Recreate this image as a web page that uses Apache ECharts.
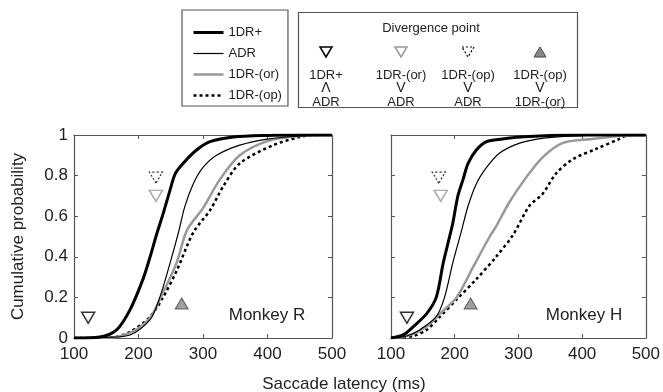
<!DOCTYPE html>
<html>
<head>
<meta charset="utf-8">
<script src="https://cdn.jsdelivr.net/npm/echarts@6/dist/echarts.min.js"></script>
<style>
  html, body { margin: 0; padding: 0; background: #fff; }
  #main { width: 663px; height: 392px; }
</style>
</head>
<body>
<div id="main"></div>
<script>
// x ticks (ms) and y ticks
var xTicks = [100, 200, 300, 400, 500];
var yTicks = [0, 0.2, 0.4, 0.6, 0.8, 1];

// Monkey R curves [latency, cumulative prob]
var r1DRplus = [[100,0],[140,0.005],[166,0.04],[187,0.14],[207,0.29],[218,0.40],[228,0.51],[238,0.61],[249,0.73],[257,0.81],[269,0.86],[290,0.926],[311,0.967],[347,0.99],[400,0.998],[450,1],[500,1]];
var rADR = [[100,0],[150,0.003],[187,0.015],[218,0.09],[233,0.20],[249,0.37],[262,0.52],[272,0.65],[285,0.76],[300,0.84],[321,0.90],[357,0.95],[400,0.98],[450,0.995],[500,1]];
var r1DRor = [[100,0],[160,0.003],[190,0.03],[218,0.10],[233,0.19],[259,0.37],[275,0.53],[300,0.64],[326,0.78],[357,0.90],[400,0.97],[450,0.995],[500,1]];
var r1DRop = [[100,0],[160,0.003],[187,0.03],[218,0.105],[238,0.20],[259,0.33],[285,0.52],[311,0.63],[331,0.745],[357,0.86],[409,0.95],[450,0.99],[470,1],[500,1]];

// Monkey H curves
var h1DRplus = [[100,0],[119,0.015],[135,0.056],[156,0.12],[171,0.20],[182,0.37],[192,0.50],[197,0.565],[205,0.70],[213,0.78],[221,0.86],[234,0.926],[250,0.967],[275,0.98],[302,0.99],[350,0.998],[400,1],[500,1]];
var hADR = [[100,0],[125,0.01],[145,0.04],[171,0.105],[184,0.20],[197,0.37],[210,0.52],[221,0.65],[234,0.76],[250,0.84],[270,0.91],[302,0.96],[340,0.985],[400,0.997],[500,1]];
var h1DRor = [[100,0],[130,0.015],[156,0.056],[177,0.12],[203,0.20],[229,0.35],[255,0.50],[265,0.55],[286,0.67],[312,0.79],[338,0.89],[369,0.96],[416,0.98],[458,0.995],[500,1]];
var h1DRop = [[100,0],[135,0.01],[156,0.04],[177,0.105],[203,0.19],[234,0.29],[265,0.40],[292,0.51],[317,0.65],[338,0.71],[359,0.81],[385,0.88],[421,0.93],[458,0.98],[473,1],[500,1]];

// divergence markers: [latency, prob]
var rDiv1 = [[122,0.1]];
var rDivOr = [[227,0.7]];
var rDivOp = [[227,0.79]];
var rDivOpOr = [[267,0.17]];
var hDiv1 = [[125,0.1]];
var hDivOr = [[178,0.7]];
var hDivOp = [[175,0.79]];
var hDivOpOr = [[225,0.17]];

var names = ['1DR+', 'ADR', '1DR-(or)', '1DR-(op)'];
var divLabelsTop = ['1DR+', '1DR-(or)', '1DR-(op)', '1DR-(op)'];
var divSigns = ['\u039B', 'V', 'V', 'V'];
var divLabelsBot = ['ADR', 'ADR', 'ADR', '1DR-(or)'];

var FONT = 'Liberation Sans, Arial, sans-serif';
var myChart = echarts.init(document.getElementById('main'));

var lineStyles = [
    {color: '#000', width: 3, type: 'solid'},
    {color: '#000', width: 1.2, type: 'solid'},
    {color: '#999', width: 2.5, type: 'solid'},
    {color: '#000', width: 2.5, type: [3, 3]}
];

function xAx(gi, pos, labels) {
    return {
        type: 'value', gridIndex: gi, position: pos, min: 100, max: 500, interval: 100,
        axisLine: {show: true, onZero: false, lineStyle: {color: '#555', width: 1.2}},
        axisTick: {show: true, inside: true, length: 4, lineStyle: {color: '#555'}},
        axisLabel: {show: labels, fontSize: 17, color: '#222', margin: 8, fontFamily: FONT},
        splitLine: {show: false}
    };
}
function yAx(gi, pos, labels) {
    return {
        type: 'value', gridIndex: gi, position: pos, min: 0, max: 1, interval: 0.2,
        axisLine: {show: true, onZero: false, lineStyle: {color: '#555', width: 1.2}},
        axisTick: {show: true, inside: true, length: 4, lineStyle: {color: '#555'}},
        axisLabel: {show: labels, fontSize: 17, color: '#222', margin: 6, fontFamily: FONT,
            formatter: function (v) { return String(+v.toFixed(1)); }},
        splitLine: {show: false}
    };
}

function curves(data, xi) {
    return data.map(function (d, i) {
        return {
            name: names[i], type: 'line', xAxisIndex: xi, yAxisIndex: xi,
            data: d, symbol: 'none', smooth: 0.3,
            color: lineStyles[i].color, lineStyle: lineStyles[i], z: 6 - i
        };
    });
}

function marker(data, xi, kind) {
    var s = {type: 'scatter', xAxisIndex: xi, yAxisIndex: xi, data: data, symbol: 'triangle',
        symbolSize: [13, 11], z: 10, silent: true};
    if (kind === 'black') {
        s.symbolRotate = 180;
        s.itemStyle = {color: '#fff', borderColor: '#000', borderWidth: 1.5};
    } else if (kind === 'gray') {
        s.symbolRotate = 180;
        s.itemStyle = {color: '#fff', borderColor: '#999', borderWidth: 1.5};
    } else if (kind === 'dotted') {
        s.symbolRotate = 180;
        s.itemStyle = {color: '#fff', borderColor: '#000', borderWidth: 1.2, borderType: [2, 2]};
    } else {
        s.itemStyle = {color: '#888', borderColor: '#444', borderWidth: 1};
    }
    return s;
}

// divergence legend graphics
var colX = [326, 401, 468, 540];
var txt = function (x, y, t, size) {
    return {type: 'text', x: x, y: y, style: {text: t, font: size + 'px ' + FONT, fill: '#222', align: 'center', verticalAlign: 'middle'}};
};
var divGraphics = [
    {type: 'rect', shape: {x: 298.5, y: 12.5, width: 279, height: 95}, style: {fill: '#fff', stroke: '#555', lineWidth: 1.2}},
    txt(431, 28, 'Divergence point', 13)
];
var triStyles = [
    {fill: '#fff', stroke: '#000', lineWidth: 1.5},
    {fill: '#fff', stroke: '#999', lineWidth: 1.5},
    {fill: '#fff', stroke: '#000', lineWidth: 1.2, lineDash: [2, 2]},
    {fill: '#888', stroke: '#444', lineWidth: 1}
];
colX.forEach(function (cx, i) {
    var pts = i < 3 ? [[cx - 6, 47], [cx + 6, 47], [cx, 57]] : [[cx - 6, 57], [cx + 6, 57], [cx, 47]];
    divGraphics.push({type: 'polygon', shape: {points: pts}, style: triStyles[i]});
    divGraphics.push(txt(cx, 75, divLabelsTop[i], 13));
    divGraphics.push(txt(cx, 88, divSigns[i], 14));
    divGraphics.push(txt(cx, 102, divLabelsBot[i], 13));
});

var option = {
    backgroundColor: '#fff',
    animation: false,
    legend: {
        data: names.map(function (n, i) {
            return {name: n, lineStyle: {width: lineStyles[i].width, type: lineStyles[i].type, color: lineStyles[i].color}};
        }),
        orient: 'vertical', left: 182, top: 10,
        padding: [16, 6, 4, 10], itemGap: 8, itemWidth: 30, itemHeight: 12,
        borderColor: '#555', borderWidth: 1.2, backgroundColor: '#fff',
        itemStyle: {opacity: 0},
        textStyle: {fontSize: 13, color: '#222', fontFamily: FONT}
    },
    grid: [
        {left: 74, top: 135, width: 258, height: 203},
        {left: 391, top: 135, width: 256, height: 203}
    ],
    xAxis: [xAx(0, 'bottom', true), xAx(1, 'bottom', true), xAx(0, 'top', false), xAx(1, 'top', false)],
    yAxis: [
        Object.assign(yAx(0, 'left', true), {name: 'Cumulative probability', nameLocation: 'middle', nameGap: 47,
            nameTextStyle: {fontSize: 17, color: '#222', fontFamily: FONT}}),
        yAx(1, 'left', false), yAx(0, 'right', false), yAx(1, 'right', false)
    ],
    series: [].concat(
        curves([r1DRplus, rADR, r1DRor, r1DRop], 0),
        curves([h1DRplus, hADR, h1DRor, h1DRop], 1),
        [
            marker(rDiv1, 0, 'black'), marker(rDivOr, 0, 'gray'), marker(rDivOp, 0, 'dotted'), marker(rDivOpOr, 0, 'filled'),
            marker(hDiv1, 1, 'black'), marker(hDivOr, 1, 'gray'), marker(hDivOp, 1, 'dotted'), marker(hDivOpOr, 1, 'filled')
        ]
    ),
    graphic: divGraphics.concat([
        txt(267, 315, 'Monkey R', 17),
        txt(584, 315, 'Monkey H', 17),
        txt(344, 384, 'Saccade latency (ms)', 17)
    ])
};

myChart.setOption(option);
</script>
</body>
</html>
